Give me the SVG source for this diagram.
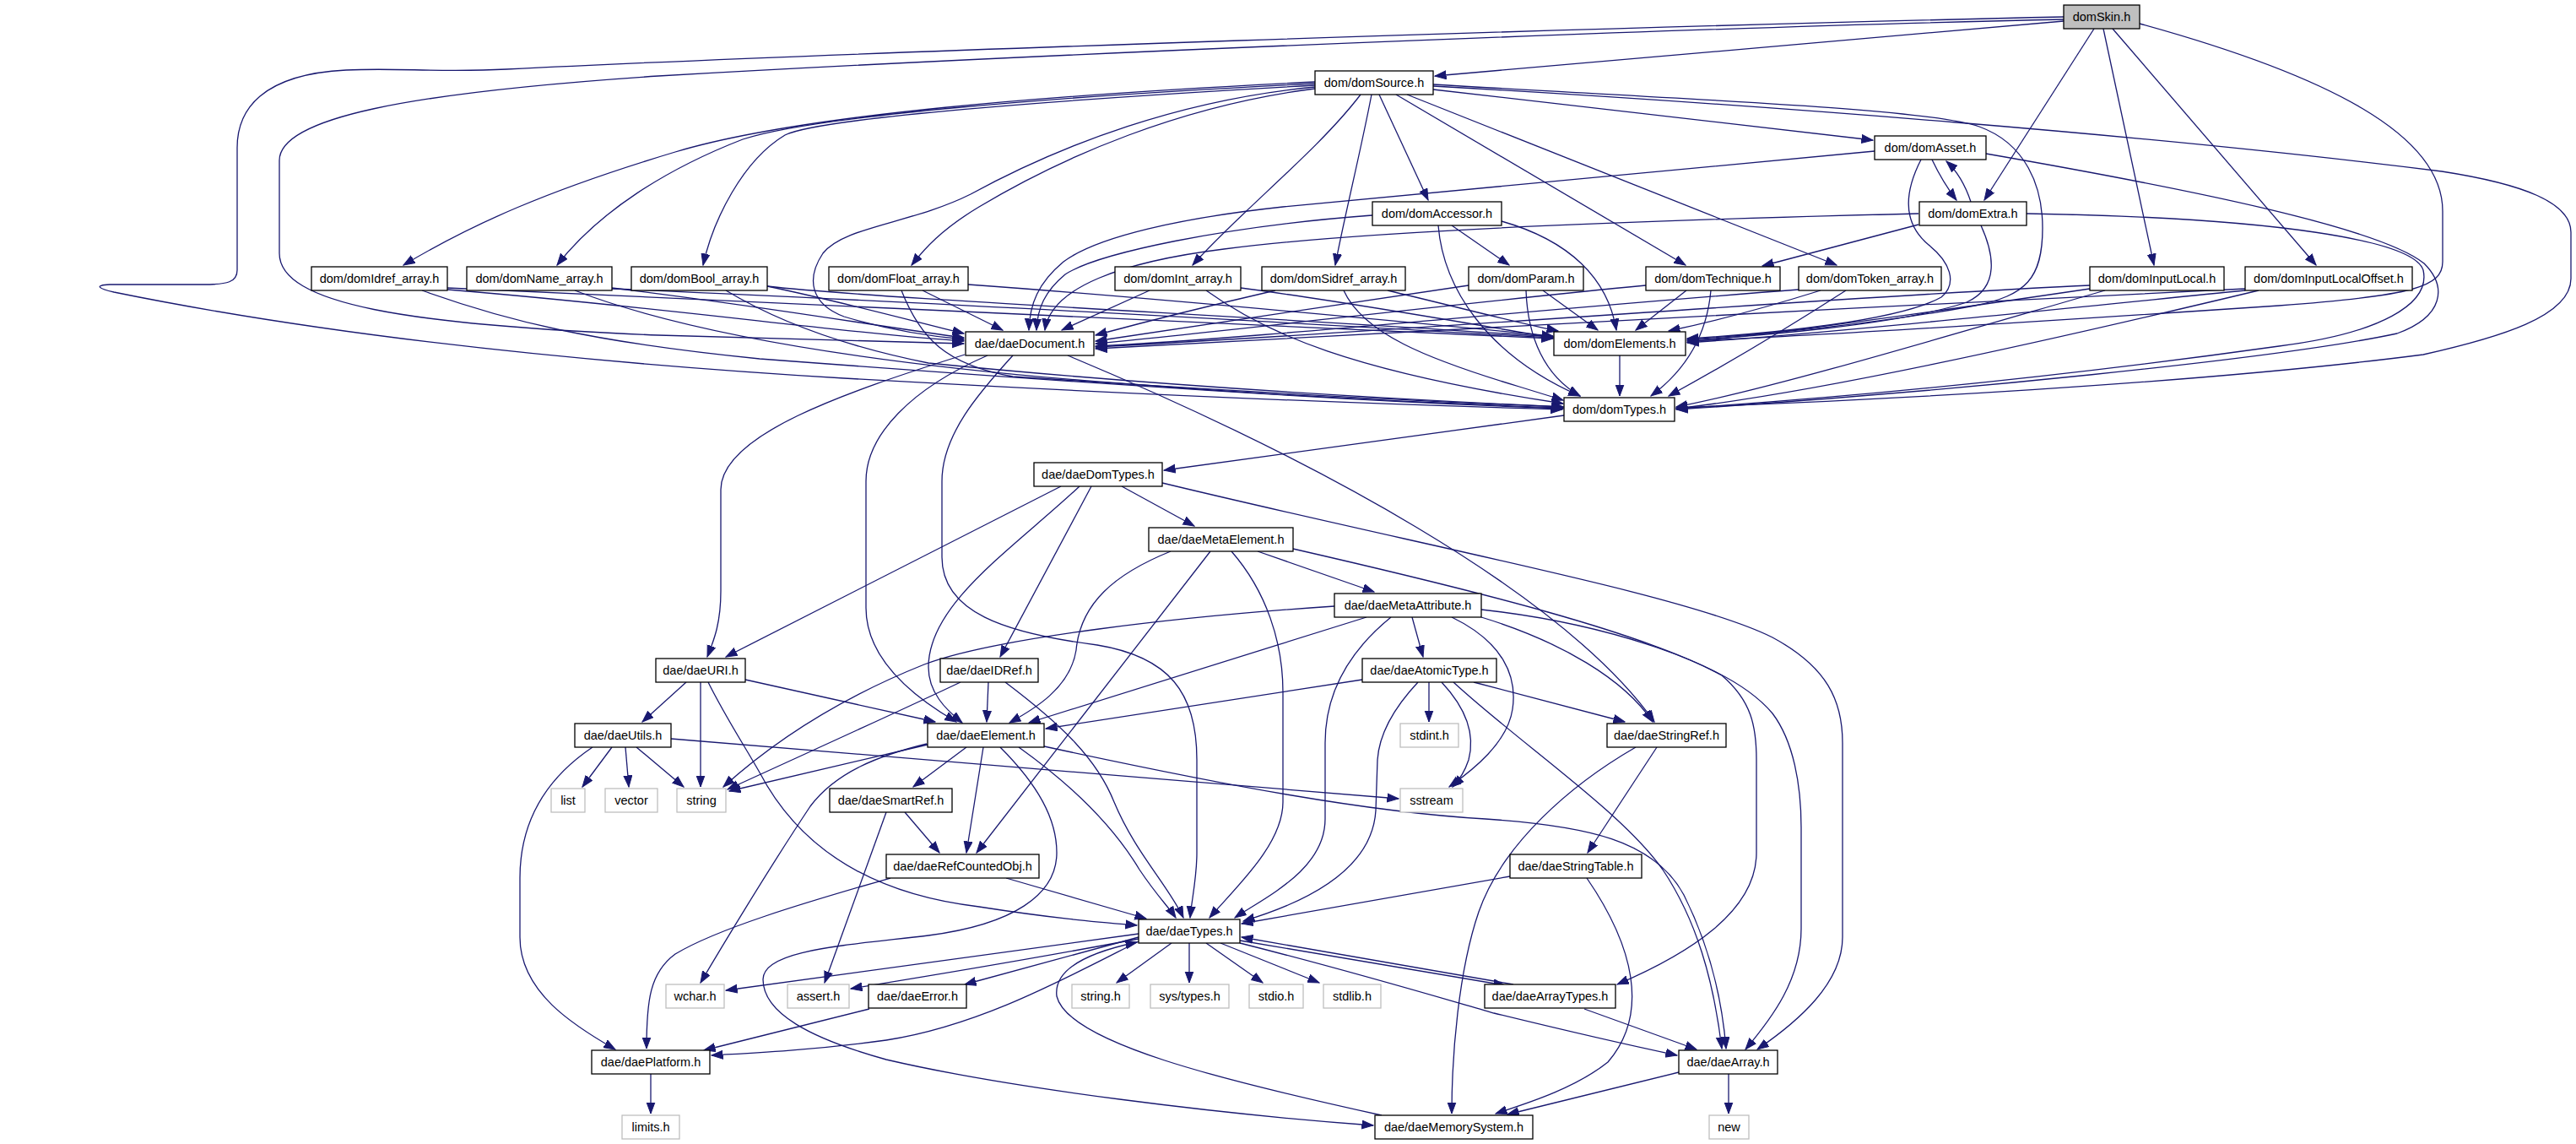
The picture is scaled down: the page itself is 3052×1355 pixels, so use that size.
<svg xmlns="http://www.w3.org/2000/svg" width="3052" height="1355" viewBox="0 0 3052 1355">
<style>
.n rect{fill:#fff;stroke:#000;stroke-width:1.3}
.n.x rect{stroke:#bfbfbf}
.n.s rect{fill:#bfbfbf}
.n text{font-family:"Liberation Sans",Arial,sans-serif;font-size:14.5px;text-anchor:middle;fill:#000}
#edges path{fill:none;stroke:#191970;stroke-width:1.3;marker-end:url(#a)}
</style>
<defs>
<marker id="a" markerWidth="15" markerHeight="12" refX="13.5" refY="5.5" orient="auto" markerUnits="userSpaceOnUse"><path d="M0,0.5 L13.5,5.5 L0,10.5 z" fill="#191970" stroke="#191970" stroke-width="1"/></marker>
</defs>
<rect width="3052" height="1355" fill="#fff"/>
<g id="edges">
<path d="M2445,25 L1700,90"/>
<path d="M2445,23 C2100,30 1300,60 780,90 C480,110 331,140 331,190 L331,300 C331,360 480,385 780,397 C950,402 1050,405 1142,407"/>
<path d="M2445,20 C1900,32 1000,62 600,82 C520,86 470,80 410,83 C310,88 281,130 281,175 L281,320 C281,334 270,337 240,337 L130,337 C110,338 118,342 135,346 C400,400 700,430 1000,448 C1300,465 1600,478 1851,485"/>
<path d="M2481,34 L2351,237"/>
<path d="M2492,34 L2552,314"/>
<path d="M2503,34 L2744,314"/>
<path d="M2535,28 C2760,90 2894,160 2894,250 L2894,310 C2894,340 2860,350 2700,362 C2400,382 2150,398 1999,404"/>
<path d="M1558,97 C1250,112 950,135 800,180 C650,225 560,265 478,314"/>
<path d="M1558,99 C1250,114 960,138 880,165 C790,200 710,250 660,314"/>
<path d="M1558,101 C1250,118 970,140 930,160 C880,190 845,260 833,314"/>
<path d="M1558,105 C1400,125 1260,185 1160,245 C1115,272 1095,295 1080,314"/>
<path d="M1558,103 C1400,118 1260,170 1150,230 C1080,265 1000,268 975,300 C955,330 960,360 1000,375 C1050,390 1100,398 1142,402"/>
<path d="M1612,112 C1560,180 1470,250 1413,314"/>
<path d="M1625,112 C1612,180 1592,260 1582,314"/>
<path d="M1634,112 L1692,237"/>
<path d="M1654,112 L1997,314"/>
<path d="M1667,112 L2176,314"/>
<path d="M1698,106 L2219,166"/>
<path d="M1698,100 C2000,118 2280,128 2345,150 C2400,170 2420,220 2420,270 C2420,330 2400,350 2340,362 C2200,388 2060,398 1999,402"/>
<path d="M1698,102 C2100,125 2550,160 2893,203 C2990,218 3046,240 3046,275 L3046,330 C3046,375 2960,400 2871,420 C2600,455 2200,475 1986,483"/>
<path d="M2289,189 C2298,208 2308,224 2318,237"/>
<path d="M2221,179 L1520,245 C1400,258 1300,280 1260,310 C1230,335 1220,360 1219,391"/>
<path d="M2276,189 C2255,230 2255,265 2285,290 C2310,310 2320,335 2300,352 C2250,380 2100,395 1999,401"/>
<path d="M2353,182 C2600,225 2820,270 2872,312 C2900,340 2895,375 2840,395 C2700,425 2300,465 1986,485"/>
<path d="M2335,239 C2328,218 2318,202 2306,191"/>
<path d="M2273,266 L2088,315"/>
<path d="M2273,253 C1900,262 1600,275 1450,295 C1330,310 1245,340 1238,391"/>
<path d="M2347,267 C2362,300 2370,340 2330,358 C2250,385 2080,398 1999,403"/>
<path d="M2401,253 C2700,258 2860,285 2871,320 C2880,360 2820,395 2700,410 C2450,445 2200,470 1986,484"/>
<path d="M1720,267 L1788,314"/>
<path d="M1626,255 C1450,268 1300,300 1262,325 C1238,345 1229,365 1228,391"/>
<path d="M1779,262 C1860,285 1905,330 1915,391"/>
<path d="M1704,267 C1710,340 1760,420 1872,469"/>
<path d="M1740,338 C1600,358 1400,390 1298,404"/>
<path d="M1828,344 L1893,391"/>
<path d="M1808,344 C1810,400 1830,445 1872,469"/>
<path d="M1511,344 C1420,365 1350,383 1298,397"/>
<path d="M1644,344 C1720,362 1800,383 1846,392"/>
<path d="M1592,344 C1615,395 1690,425 1800,458 L1852,474"/>
<path d="M1362,344 L1258,391"/>
<path d="M1470,341 C1600,358 1750,385 1840,400"/>
<path d="M1429,344 C1500,395 1600,440 1852,478"/>
<path d="M1093,344 L1188,391"/>
<path d="M1147,337 C1400,355 1700,385 1840,398"/>
<path d="M1068,344 C1090,400 1120,432 1200,446 C1500,466 1700,476 1852,482"/>
<path d="M909,339 C1000,358 1080,380 1142,395"/>
<path d="M909,339 C1050,355 1500,375 1840,399"/>
<path d="M860,344 C920,380 1000,410 1100,430 C1400,460 1700,475 1852,482"/>
<path d="M725,341 C900,362 1050,388 1142,400"/>
<path d="M725,342 C1200,362 1650,390 1840,400"/>
<path d="M681,344 C800,390 1000,428 1300,452 C1500,468 1700,478 1852,483"/>
<path d="M530,343 C800,365 1000,395 1142,404"/>
<path d="M530,341 C1100,368 1650,392 1840,401"/>
<path d="M500,344 C600,380 700,405 900,425 C1300,455 1600,475 1852,484"/>
<path d="M1950,338 C1700,362 1450,393 1298,407"/>
<path d="M1998,344 L1938,391"/>
<path d="M2027,344 C2022,400 1995,440 1956,469"/>
<path d="M2131,343 C1800,368 1500,400 1298,410"/>
<path d="M2157,344 C2080,368 2020,383 1977,392"/>
<path d="M2187,344 C2100,400 2030,440 1977,469"/>
<path d="M2476,338 C2200,350 1700,390 1298,411"/>
<path d="M2476,342 C2300,368 2100,396 1999,405"/>
<path d="M2494,344 C2300,400 2100,460 1986,482"/>
<path d="M2660,342 C2200,362 1600,400 1298,413"/>
<path d="M2660,344 C2400,370 2150,396 1999,406"/>
<path d="M2676,344 C2400,410 2150,465 1986,484"/>
<path d="M1919,421 L1919,469"/>
<path d="M1853,492 L1379,557"/>
<path d="M1143,420 C1000,465 854,515 854,580 L854,700 C854,740 845,760 838,778"/>
<path d="M1170,421 C1080,460 1026,515 1026,570 L1026,720 C1026,785 1090,830 1133,855"/>
<path d="M1200,421 C1160,465 1116,515 1116,570 L1116,660 C1116,725 1190,750 1300,764 C1385,778 1418,820 1418,900 L1418,1010 C1418,1040 1412,1065 1410,1087"/>
<path d="M1265,421 C1550,540 1850,700 1960,855"/>
<path d="M1257,576 L860,778"/>
<path d="M1279,576 C1200,650 1100,715 1100,790 C1100,820 1120,840 1140,856"/>
<path d="M1293,576 L1185,778"/>
<path d="M1329,576 L1415,623"/>
<path d="M1377,572 C1700,650 2000,705 2100,755 C2165,790 2183,830 2183,880 L2183,1110 C2183,1165 2130,1210 2082,1243"/>
<path d="M1490,653 L1628,701"/>
<path d="M1387,653 C1320,680 1280,715 1275,770 C1268,815 1225,840 1196,856"/>
<path d="M1434,653 L1157,1010"/>
<path d="M1459,653 C1500,700 1520,760 1520,820 L1520,950 C1520,1000 1465,1050 1433,1087"/>
<path d="M1532,650 C1750,700 1950,750 2040,800 C2075,830 2081,860 2081,900 L2081,1010 C2081,1080 2000,1130 1916,1166"/>
<path d="M1673,731 L1686,778"/>
<path d="M1581,718 C1400,730 1180,755 1095,787 C1000,825 920,875 857,932"/>
<path d="M1720,731 C1780,760 1798,800 1792,840 C1786,880 1745,912 1717,932"/>
<path d="M1755,731 C1850,760 1925,805 1958,855"/>
<path d="M1755,722 C1900,738 2050,785 2100,845 C2125,878 2134,930 2134,980 L2134,1100 C2134,1160 2100,1205 2068,1243"/>
<path d="M1619,731 L1219,856"/>
<path d="M1648,731 C1600,770 1570,820 1570,880 L1570,970 C1570,1030 1500,1062 1463,1087"/>
<path d="M1693,808 L1693,855"/>
<path d="M1614,805 L1239,863"/>
<path d="M1680,808 C1650,840 1634,870 1632,900 L1630,960 C1626,1025 1560,1065 1473,1091"/>
<path d="M1708,808 C1738,840 1748,870 1740,900 C1735,915 1728,925 1721,932"/>
<path d="M1746,808 L1925,855"/>
<path d="M1722,808 C1800,880 1920,960 1970,1030 C2010,1090 2030,1160 2040,1242"/>
<path d="M1963,885 L1881,1010"/>
<path d="M1938,885 C1860,930 1780,1000 1752,1080 C1728,1150 1720,1250 1720,1319"/>
<path d="M1789,1038 L1471,1094"/>
<path d="M1880,1040 C1935,1120 1955,1200 1905,1258 C1865,1290 1805,1308 1772,1319"/>
<path d="M1793,1166 L1471,1110"/>
<path d="M1469,1114 L1783,1167"/>
<path d="M1877,1195 L2010,1243"/>
<path d="M1469,1117 C1600,1150 1700,1180 1770,1200 C1860,1222 1930,1238 1987,1250"/>
<path d="M1388,1117 L1323,1164"/>
<path d="M1409,1117 L1409,1164"/>
<path d="M1429,1117 L1496,1164"/>
<path d="M1446,1117 L1563,1164"/>
<path d="M1349,1110 L1143,1166"/>
<path d="M1349,1112 C1200,1140 1100,1156 1008,1171"/>
<path d="M1349,1106 L860,1173"/>
<path d="M1349,1115 C1260,1160 1160,1215 1050,1232 C960,1244 900,1247 843,1250"/>
<path d="M1637,1321 C1450,1280 1265,1235 1252,1180 C1248,1148 1290,1128 1347,1116"/>
<path d="M2048,1272 L2048,1319"/>
<path d="M1989,1270 L1786,1320"/>
<path d="M1099,882 L864,937"/>
<path d="M1145,885 L1082,932"/>
<path d="M1165,885 L1145,1010"/>
<path d="M1185,885 C1230,930 1252,970 1252,1010 C1252,1060 1200,1095 1100,1108 C1000,1120 904,1125 904,1160 C904,1200 960,1230 1050,1255 C1200,1290 1450,1320 1627,1333"/>
<path d="M1098,881 C1040,895 990,915 960,955 C910,1030 850,1130 830,1164"/>
<path d="M1207,885 C1270,930 1320,980 1350,1030 C1370,1060 1385,1075 1393,1087"/>
<path d="M1237,884 C1450,930 1620,962 1760,970 C1880,978 1960,995 1995,1060 C2025,1120 2040,1180 2045,1242"/>
<path d="M813,808 L761,855"/>
<path d="M830,808 L830,932"/>
<path d="M883,805 L1108,855"/>
<path d="M839,808 C860,850 880,880 900,915 C950,1010 1040,1060 1160,1074 C1250,1088 1300,1092 1347,1096"/>
<path d="M1171,808 L1169,855"/>
<path d="M1138,808 C1060,845 960,890 862,935"/>
<path d="M1191,808 C1260,860 1300,900 1320,950 C1345,1010 1385,1050 1402,1087"/>
<path d="M725,885 L690,932"/>
<path d="M741,885 L745,932"/>
<path d="M754,885 L810,932"/>
<path d="M795,875 L1657,946"/>
<path d="M702,885 C650,920 616,970 616,1040 L616,1110 C616,1175 680,1215 729,1243"/>
<path d="M1072,962 L1113,1010"/>
<path d="M1050,962 L977,1164"/>
<path d="M1055,1040 C950,1070 850,1100 800,1130 C770,1152 766,1185 766,1242"/>
<path d="M1192,1040 L1358,1088"/>
<path d="M1030,1195 L834,1244"/>
<path d="M771,1272 L771,1319"/>
</g>
<g id="n_domSkin" class="n s"><rect x="2445" y="6" width="90" height="28"/><text x="2490" y="25">domSkin.h</text></g>
<g id="n_domSource" class="n"><rect x="1558" y="84" width="140" height="28"/><text x="1628" y="103">dom/domSource.h</text></g>
<g id="n_domAsset" class="n"><rect x="2221" y="161" width="132" height="28"/><text x="2287" y="180">dom/domAsset.h</text></g>
<g id="n_domExtra" class="n"><rect x="2274" y="239" width="127" height="28"/><text x="2337.5" y="258">dom/domExtra.h</text></g>
<g id="n_domAccessor" class="n"><rect x="1626" y="239" width="153" height="28"/><text x="1702.5" y="258">dom/domAccessor.h</text></g>
<g id="n_domIdref_array" class="n"><rect x="369" y="316" width="161" height="28"/><text x="449.5" y="335">dom/domIdref_array.h</text></g>
<g id="n_domName_array" class="n"><rect x="553" y="316" width="172" height="28"/><text x="639" y="335">dom/domName_array.h</text></g>
<g id="n_domBool_array" class="n"><rect x="748" y="316" width="161" height="28"/><text x="828.5" y="335">dom/domBool_array.h</text></g>
<g id="n_domFloat_array" class="n"><rect x="982" y="316" width="165" height="28"/><text x="1064.5" y="335">dom/domFloat_array.h</text></g>
<g id="n_domInt_array" class="n"><rect x="1321" y="316" width="149" height="28"/><text x="1395.5" y="335">dom/domInt_array.h</text></g>
<g id="n_domSidref_array" class="n"><rect x="1495" y="316" width="170" height="28"/><text x="1580" y="335">dom/domSidref_array.h</text></g>
<g id="n_domParam" class="n"><rect x="1740" y="316" width="136" height="28"/><text x="1808" y="335">dom/domParam.h</text></g>
<g id="n_domTechnique" class="n"><rect x="1950" y="316" width="159" height="28"/><text x="2029.5" y="335">dom/domTechnique.h</text></g>
<g id="n_domToken_array" class="n"><rect x="2131" y="316" width="169" height="28"/><text x="2215.5" y="335">dom/domToken_array.h</text></g>
<g id="n_domInputLocal" class="n"><rect x="2476" y="316" width="159" height="28"/><text x="2555.5" y="335">dom/domInputLocal.h</text></g>
<g id="n_domInputLocalOffset" class="n"><rect x="2660" y="316" width="198" height="28"/><text x="2759" y="335">dom/domInputLocalOffset.h</text></g>
<g id="n_daeDocument" class="n"><rect x="1144" y="393" width="152" height="28"/><text x="1220" y="412">dae/daeDocument.h</text></g>
<g id="n_domElements" class="n"><rect x="1841" y="393" width="156" height="28"/><text x="1919" y="412">dom/domElements.h</text></g>
<g id="n_domTypes" class="n"><rect x="1853" y="471" width="131" height="28"/><text x="1918.5" y="490">dom/domTypes.h</text></g>
<g id="n_daeDomTypes" class="n"><rect x="1225" y="548" width="152" height="28"/><text x="1301" y="567">dae/daeDomTypes.h</text></g>
<g id="n_daeMetaElement" class="n"><rect x="1361" y="625" width="171" height="28"/><text x="1446.5" y="644">dae/daeMetaElement.h</text></g>
<g id="n_daeMetaAttribute" class="n"><rect x="1581" y="703" width="174" height="28"/><text x="1668" y="722">dae/daeMetaAttribute.h</text></g>
<g id="n_daeAtomicType" class="n"><rect x="1614" y="780" width="159" height="28"/><text x="1693.5" y="799">dae/daeAtomicType.h</text></g>
<g id="n_daeURI" class="n"><rect x="777" y="780" width="106" height="28"/><text x="830" y="799">dae/daeURI.h</text></g>
<g id="n_daeIDRef" class="n"><rect x="1114" y="780" width="116" height="28"/><text x="1172" y="799">dae/daeIDRef.h</text></g>
<g id="n_daeUtils" class="n"><rect x="681" y="857" width="114" height="28"/><text x="738" y="876">dae/daeUtils.h</text></g>
<g id="n_daeElement" class="n"><rect x="1099" y="857" width="138" height="28"/><text x="1168" y="876">dae/daeElement.h</text></g>
<g id="n_stdint" class="n x"><rect x="1659" y="857" width="69" height="28"/><text x="1693.5" y="876">stdint.h</text></g>
<g id="n_daeStringRef" class="n"><rect x="1904" y="857" width="141" height="28"/><text x="1974.5" y="876">dae/daeStringRef.h</text></g>
<g id="n_list" class="n x"><rect x="653" y="934" width="40" height="28"/><text x="673" y="953">list</text></g>
<g id="n_vector" class="n x"><rect x="717" y="934" width="62" height="28"/><text x="748" y="953">vector</text></g>
<g id="n_string" class="n x"><rect x="802" y="934" width="58" height="28"/><text x="831" y="953">string</text></g>
<g id="n_daeSmartRef" class="n"><rect x="983" y="934" width="145" height="28"/><text x="1055.5" y="953">dae/daeSmartRef.h</text></g>
<g id="n_sstream" class="n x"><rect x="1659" y="934" width="74" height="28"/><text x="1696" y="953">sstream</text></g>
<g id="n_daeRefCountedObj" class="n"><rect x="1050" y="1012" width="181" height="28"/><text x="1140.5" y="1031">dae/daeRefCountedObj.h</text></g>
<g id="n_daeStringTable" class="n"><rect x="1789" y="1012" width="156" height="28"/><text x="1867" y="1031">dae/daeStringTable.h</text></g>
<g id="n_daeTypes" class="n"><rect x="1349" y="1089" width="120" height="28"/><text x="1409" y="1108">dae/daeTypes.h</text></g>
<g id="n_wchar" class="n x"><rect x="789" y="1166" width="69" height="28"/><text x="823.5" y="1185">wchar.h</text></g>
<g id="n_assert" class="n x"><rect x="933" y="1166" width="73" height="28"/><text x="969.5" y="1185">assert.h</text></g>
<g id="n_daeError" class="n"><rect x="1029" y="1166" width="116" height="28"/><text x="1087" y="1185">dae/daeError.h</text></g>
<g id="n_string_h" class="n x"><rect x="1270" y="1166" width="68" height="28"/><text x="1304" y="1185">string.h</text></g>
<g id="n_sys_types" class="n x"><rect x="1363" y="1166" width="93" height="28"/><text x="1409.5" y="1185">sys/types.h</text></g>
<g id="n_stdio" class="n x"><rect x="1480" y="1166" width="64" height="28"/><text x="1512" y="1185">stdio.h</text></g>
<g id="n_stdlib" class="n x"><rect x="1568" y="1166" width="68" height="28"/><text x="1602" y="1185">stdlib.h</text></g>
<g id="n_daeArrayTypes" class="n"><rect x="1759" y="1166" width="155" height="28"/><text x="1836.5" y="1185">dae/daeArrayTypes.h</text></g>
<g id="n_daePlatform" class="n"><rect x="701" y="1244" width="140" height="28"/><text x="771" y="1263">dae/daePlatform.h</text></g>
<g id="n_daeArray" class="n"><rect x="1989" y="1244" width="117" height="28"/><text x="2047.5" y="1263">dae/daeArray.h</text></g>
<g id="n_limits" class="n x"><rect x="737" y="1321" width="68" height="28"/><text x="771" y="1340">limits.h</text></g>
<g id="n_daeMemorySystem" class="n"><rect x="1629" y="1321" width="187" height="28"/><text x="1722.5" y="1340">dae/daeMemorySystem.h</text></g>
<g id="n_new" class="n x"><rect x="2025" y="1321" width="47" height="28"/><text x="2048.5" y="1340">new</text></g>
</svg>
